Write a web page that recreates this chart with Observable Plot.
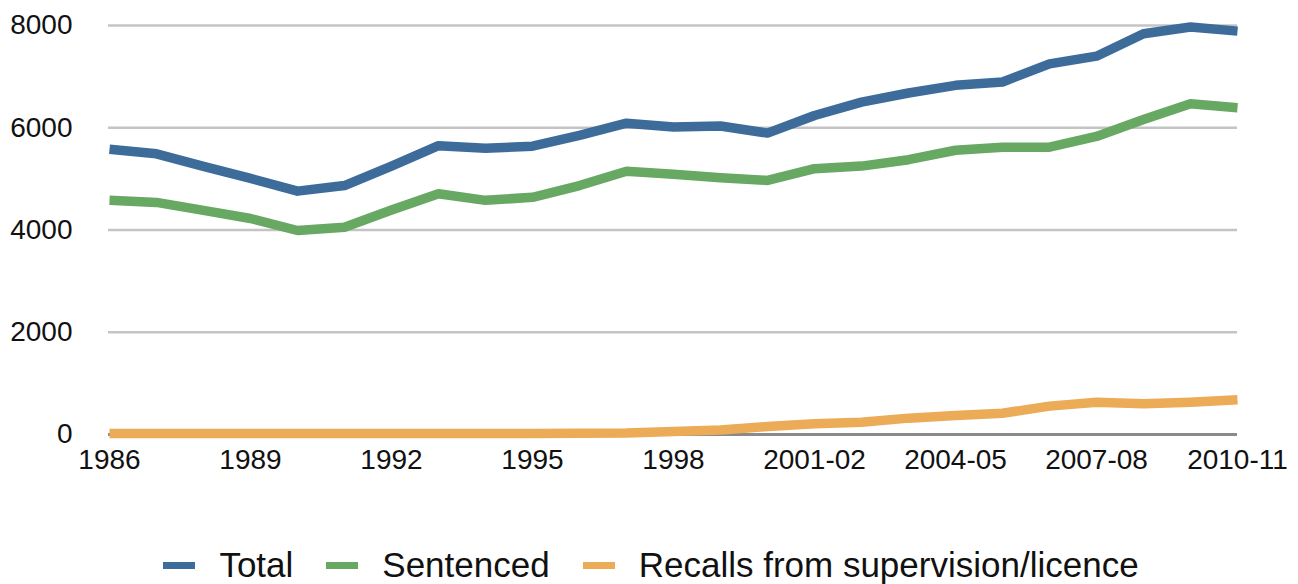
<!DOCTYPE html>
<html>
<head>
<meta charset="utf-8">
<script src="https://cdn.jsdelivr.net/npm/d3@7"></script>
<script src="https://cdn.jsdelivr.net/npm/@observablehq/plot@0.6"></script>
<style>
  html, body { margin: 0; padding: 0; background: #fff; overflow: hidden; }
  body { width: 1298px; height: 584px; font-family: "Liberation Sans", Arial, Helvetica, sans-serif; }
  #chart svg { display: block; }
  #legend { display: flex; justify-content: center; align-items: center; gap: 33px;
            margin-top: 45px; margin-left: 4px; font-size: 35px; line-height: 40px; color: #111; }
  .item { display: flex; align-items: center; }
  .sw { width: 32px; height: 7px; margin-right: 24px; }
</style>
</head>
<body>
<div id="chart"></div>
<div id="legend"></div>
<script>
const periods = ["1986","1987","1988","1989","1990","1991","1992","1993","1994","1995","1996","1997","1998","1999","2000-01","2001-02","2002-03","2003-04","2004-05","2005-06","2006-07","2007-08","2008-09","2009-10","2010-11"];
const tickLabels = ["1986","1989","1992","1995","1998","2001-02","2004-05","2007-08","2010-11"];
const total     = [5580,5490,5245,5010,4760,4870,5250,5650,5600,5640,5850,6090,6015,6035,5895,6240,6500,6680,6830,6895,7250,7400,7840,7970,7890];
const sentenced = [4580,4540,4385,4225,3990,4055,4390,4710,4580,4640,4870,5150,5090,5020,4970,5200,5250,5375,5560,5620,5620,5830,6160,6470,6390];
const recalls   = [20,20,20,20,20,20,20,20,20,20,25,30,60,90,155,210,240,320,370,415,555,630,600,630,680];
const seriesNames = ["Total","Sentenced","Recalls from supervision/licence"];
const seriesColors = ["#3d6c9b","#67a862","#ebab57"];
const yTicks = [0,2000,4000,6000,8000];
const gridValues = [2000,4000,6000,8000];

const seriesValues = [total, sentenced, recalls];
const rows = seriesNames.flatMap((name, s) => periods.map((p, i) => ({period: p, value: seriesValues[s][i], series: name})));

const chart = Plot.plot({
  width: 1298,
  height: 500,
  marginLeft: 108,
  marginRight: 61,
  marginTop: 25,
  marginBottom: 66,
  style: { fontSize: "28px", fontFamily: "'Liberation Sans', Arial, Helvetica, sans-serif", color: "#111", background: "#fff" },
  x: { type: "point", domain: periods, padding: 0, label: null },
  y: { domain: [0, 8000], label: null },
  color: { domain: seriesNames, range: seriesColors },
  marks: [
    Plot.ruleY(gridValues, { stroke: "#c4c4c4", strokeWidth: 2.5 }),
    Plot.ruleY([0], { stroke: "#8a8a8a", strokeWidth: 3 }),
    Plot.axisY({ ticks: yTicks, tickSize: 0, tickPadding: 36, tickFormat: d => String(d), label: null }),
    Plot.axisX({ ticks: tickLabels, tickSize: 0, tickPadding: 15, label: null }),
    Plot.line(rows, { x: "period", y: "value", z: "series", stroke: "series", strokeWidth: 9.5, strokeLinejoin: "round", strokeLinecap: "butt" })
  ]
});
document.getElementById("chart").appendChild(chart);

const legend = document.getElementById("legend");
seriesNames.forEach((name, i) => {
  const item = document.createElement("div");
  item.className = "item";
  const sw = document.createElement("span");
  sw.className = "sw";
  sw.style.background = seriesColors[i];
  const label = document.createElement("span");
  label.textContent = name;
  item.appendChild(sw);
  item.appendChild(label);
  legend.appendChild(item);
});
</script>
</body>
</html>
